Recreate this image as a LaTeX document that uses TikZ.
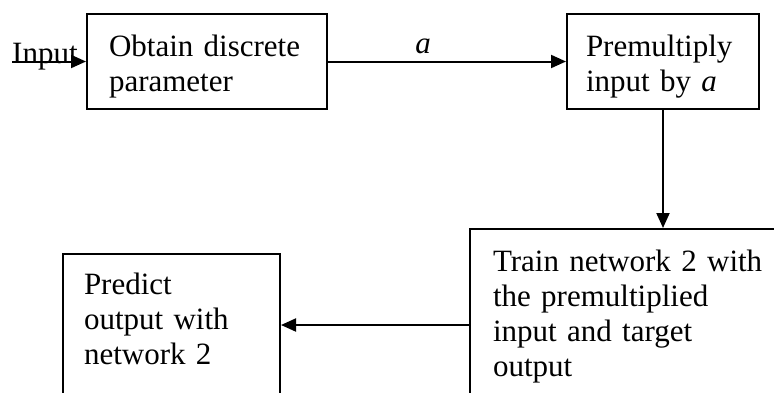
\documentclass[tikz,border=0pt]{standalone}
\usepackage{fontspec}
\setmainfont{Liberation Serif}
\usetikzlibrary{positioning,arrows.meta,calc}

% gap above the first baseline and below the last one
\newcommand{\topgap}[1]{\rule{0pt}{#1}}
\newcommand{\botgap}[1]{\rule[-#1]{0pt}{#1}}

\tikzset{
  stepbox/.style={draw, line width=2pt, align=left, anchor=north west,
    inner ysep=0pt, font=\fontsize{31}{35}\selectfont},
  flow/.style={line width=2pt, -{Triangle[length=15pt,width=13pt]}}
}

\begin{document}
\begin{tikzpicture}[x=1pt,y=-1pt]
\useasboundingbox (0,0) rectangle (774,392);
\clip (0,0) rectangle (774,392);

% the four steps
\node[stepbox, inner xsep=22pt, text width=196pt] (obtain) at (86,13)
  {\topgap{42pt}Obtain discrete\\parameter\botgap{18pt}};
\node[stepbox, inner xsep=19pt, text width=154pt] (premult) at (566,13)
  {\topgap{42pt}Premultiply\\input by \textit{a}\botgap{18pt}};
\node[stepbox, inner xsep=23pt, text width=285pt] (train) at (469,228)
  {\topgap{42pt}Train network 2 with\\the premultiplied\\input and target\\output\botgap{40pt}};
\node[stepbox, inner xsep=21pt, text width=175pt] (predict) at (62,253)
  {\topgap{40pt}Predict\\output with\\network 2\botgap{40pt}};

\node[anchor=base west, inner sep=0pt, font=\fontsize{31}{35}\selectfont] (input) at (12,63) {Input};
\coordinate (lowflow) at (0,325);

% connectors
\draw[flow] (input.west |- obtain.west) -- (obtain.west);
\draw[flow] (obtain) -- node[above, pos=.40, inner sep=7pt, font=\fontsize{31}{35}\selectfont] (par) {\textit{a}} (premult);
\draw[flow] (premult.south) -- (premult.south |- train.north);
\draw[flow] (train.west |- lowflow) -- (predict.east |- lowflow);
\end{tikzpicture}
\end{document}
